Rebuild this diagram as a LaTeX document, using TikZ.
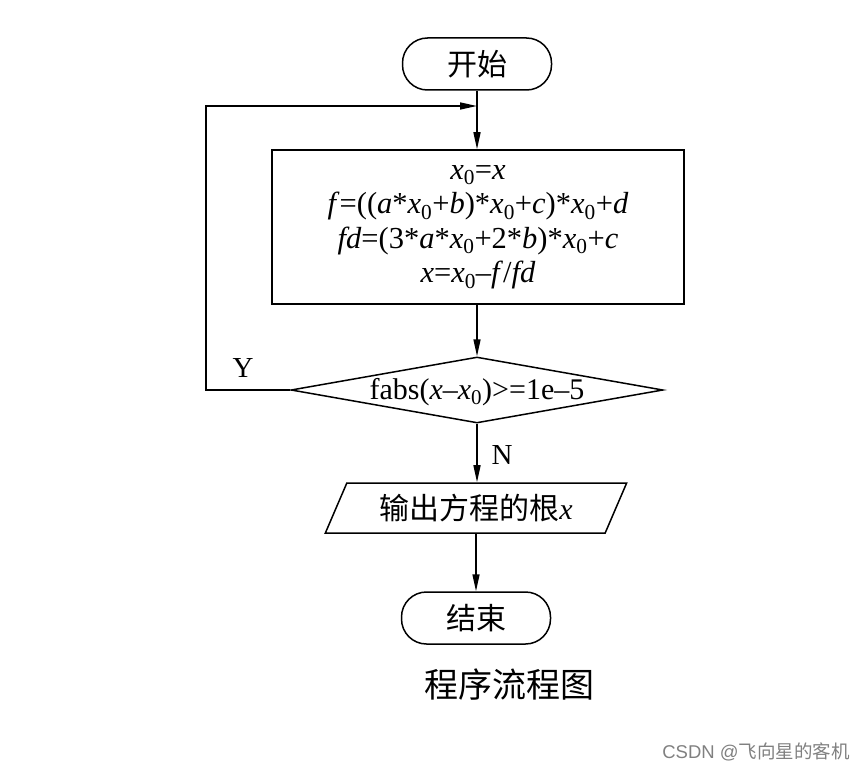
\documentclass[tikz,border=0pt]{standalone}
\usepackage{fontspec}
\setmainfont{Liberation Serif}
\newfontfamily\cjk{Noto Sans CJK SC}
\newfontfamily\wmfont{Liberation Sans}
\usetikzlibrary{shapes.geometric,arrows.meta}
\newcommand\xz{\textit{x}\textsubscript{0}}
\begin{document}
\begin{tikzpicture}[x=1pt,y=-1pt, line width=1.5pt,
  term/.style={draw, rectangle, rounded corners=25pt, minimum width=149pt, minimum height=52pt, inner sep=0pt, font=\cjk\fontsize{30}{32}\selectfont},
  procbox/.style={draw, rectangle, minimum width=412pt, minimum height=154pt, inner sep=0pt, align=center, font=\fontsize{30.5}{34.5}\selectfont},
  decision/.style={draw, diamond, aspect=5.6, inner sep=0pt, text height=14pt, text depth=5pt, minimum width=372pt, minimum height=66pt, font=\fontsize{30}{32}\selectfont},
  io/.style={draw, trapezium, trapezium left angle=60, trapezium right angle=120, trapezium stretches=true, inner sep=0pt, minimum width=302pt, minimum height=50pt, font=\fontsize{30}{32}\selectfont},
  arr/.style={-{Triangle[length=17pt,width=7pt]}},
  lbl/.style={font=\fontsize{29}{31}\selectfont}
]
\useasboundingbox (0,0) rectangle (867,773);
\node[term] (start) at (477,64) {开始};
\node[procbox] (box) at (478,227) {\xz=\textit{x}\\
\textit{f}=((\textit{a}*\xz+\textit{b})*\xz+\textit{c})*\xz+\textit{d}\\
\textit{fd}=(3*\textit{a}*\xz+2*\textit{b})*\xz+\textit{c}\\
\textit{x}=\xz–\textit{f}/\textit{fd}};
\node[decision] (dec) at (477,390) {\raisebox{-4.5pt}{fabs(\textit{x}–\xz)>=1e–5}};
\node[io] (out) at (476,508) {\raisebox{-2pt}{{\cjk 输出方程的根}\textit{x}}};
\node[term] (end) at (476,618) {结束};
\node[lbl] (ylab) at (243,368) {Y};
\node[lbl] (nlab) at (502,455) {N};
\node[font=\cjk\fontsize{34}{36}\selectfont] (cap) at (509,685) {程序流程图};
\node[font=\wmfont\fontsize{18.5}{20}\selectfont, text=gray] (wm) at (756,752) {CSDN @{\cjk 飞向星的客机}};
\coordinate (j) at (477,106);
\coordinate (lp) at (206,390);
\draw[arr] (start.south) -- (start.south |- box.north);
\draw[arr] (dec.west) -- (lp) |- (j);
\draw[arr] (box.south -| dec.north) -- (dec.north);
\draw[arr] (dec.south) -- (dec.south |- out.north);
\draw[arr] (out.south -| end.north) -- (end.north);
\end{tikzpicture}
\end{document}
